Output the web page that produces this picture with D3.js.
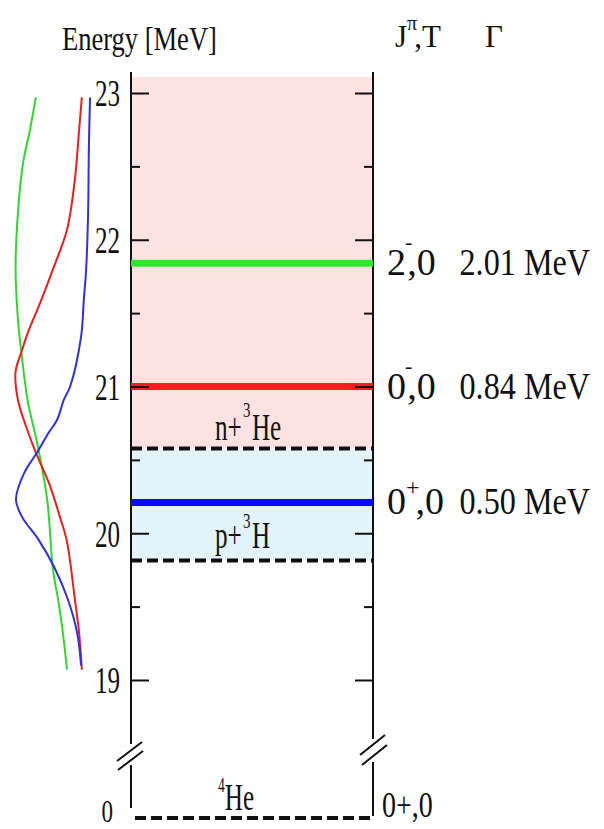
<!DOCTYPE html>
<html>
<head>
<meta charset="utf-8">
<script src="https://cdn.jsdelivr.net/npm/d3@7"></script>
<style>
  body { margin: 0; background: #fff; }
  svg { display: block; }
</style>
</head>
<body>
<svg id="chart" width="604" height="829"></svg>
<script>
// values (energies in MeV)
const majorTicks = [19, 20, 21, 22, 23];
const minorTicks = [19.5, 20.5, 21.5, 22.5];

const levelEnergies = [21.84, 21.0, 20.21];
const levelSpins = ["2", "0", "0"];
const levelParities = ["-", "-", "+"];
const levelWidths = ["2.01 MeV", "0.84 MeV", "0.50 MeV"];
const levelColors = ["#2ee82e", "#ff1c1c", "#0a0aff"];

const thresholdEnergies = [20.578, 19.814];
const thresholdLabels = [["n+", "3", "He"], ["p+", "3", "H"]];
const groundEnergy = 0;

// [energy, amplitude] along each curve on the left
const curveGreen = [[22.97,-0.44],[22.75,-0.59],[22.52,-0.77],[22.18,-0.90],[21.80,-0.96],[21.46,-0.90],
    [21.25,-0.82],[20.89,-0.64],[20.62,-0.41],[20.23,-0.15],[19.75,0],[19.55,0.13],[19.37,0.23],[19.07,0.36]];
const curveRed = [[22.97,0.74],[22.75,0.67],[22.41,0.56],[22.07,0.36],[21.80,0],[21.57,-0.33],[21.37,-0.64],
    [21.25,-0.79],[21.10,-0.96],[20.91,-0.90],[20.69,-0.64],[20.55,-0.44],[20.34,-0.10],[20.11,0.18],
    [19.94,0.36],[19.55,0.56],[19.32,0.67],[19.07,0.74]];
const curveBlue = [[22.97,0.95],[22.63,0.92],[22.18,0.90],[21.80,0.85],[21.59,0.79],[21.34,0.72],[21.00,0.44],
    [20.91,0.28],[20.77,0.10],[20.69,-0.10],[20.55,-0.41],[20.41,-0.74],[20.23,-0.95],[20.11,-0.79],
    [19.96,-0.38],[19.77,0.03],[19.55,0.38],[19.32,0.62],[19.10,0.72]];

const serif = "'Liberation Serif', 'Times New Roman', serif";
const xLeft = 131, xRight = 373;

const svg = d3.select("#chart");

const y = d3.scaleLinear().domain([23, 19]).range([93, 680]);
// lower part below the axis break, only the ground state lives there
const yLow = d3.scaleLinear().domain([0, 1]).range([818, 700]);
const amp = d3.scaleLinear().domain([-1, 1]).range([14, 92]);

function addText(x, yy, size, sx) {
    return svg.append("text")
        .attr("transform", `translate(${x},${yy}) scale(${sx},1)`)
        .style("font-family", serif)
        .style("font-size", size + "px")
        .attr("fill", "#111");
}

// bands
svg.append("rect")
    .attr("x", xLeft).attr("y", 77)
    .attr("width", xRight - xLeft)
    .attr("height", y(thresholdEnergies[0]) - 77)
    .attr("fill", "#fde2e2");
svg.append("rect")
    .attr("x", xLeft).attr("y", y(thresholdEnergies[0]))
    .attr("width", xRight - xLeft)
    .attr("height", y(thresholdEnergies[1]) - y(thresholdEnergies[0]))
    .attr("fill", "#e2f3fa");

// axis lines with the break
const axisSegments = [
    [xLeft, 72, 744], [xLeft, 765, 808],
    [xRight, 72, 739], [xRight, 762, 816]
];
svg.selectAll(".axisline").data(axisSegments).enter().append("line")
    .attr("x1", d => d[0]).attr("x2", d => d[0])
    .attr("y1", d => d[1]).attr("y2", d => d[2])
    .attr("stroke", "#111").attr("stroke-width", 2);

const breaks = [
    [117, 761, 142, 742], [118, 770, 143, 751],
    [360, 755, 385, 735], [362, 765, 387, 745]
];
svg.selectAll(".brk").data(breaks).enter().append("line")
    .attr("x1", d => d[0]).attr("y1", d => d[1])
    .attr("x2", d => d[2]).attr("y2", d => d[3])
    .attr("stroke", "#111").attr("stroke-width", 2);

// threshold dashed lines
svg.selectAll(".thr").data(thresholdEnergies).enter().append("line")
    .attr("x1", xLeft).attr("x2", xRight)
    .attr("y1", d => y(d)).attr("y2", d => y(d))
    .attr("stroke", "#111").attr("stroke-width", 4)
    .attr("stroke-dasharray", "11 5");

svg.append("line")
    .attr("x1", xLeft + 4).attr("x2", xRight)
    .attr("y1", yLow(groundEnergy)).attr("y2", yLow(groundEnergy))
    .attr("stroke", "#111").attr("stroke-width", 4)
    .attr("stroke-dasharray", "11 5");

// levels
svg.selectAll(".lvl").data(levelEnergies).enter().append("line")
    .attr("x1", xLeft).attr("x2", xRight)
    .attr("y1", d => y(d)).attr("y2", d => y(d))
    .attr("stroke", (d, i) => levelColors[i])
    .attr("stroke-width", 7);

// ticks
function styleAxis(g) {
    g.select(".domain").remove();
    g.selectAll(".tick line").attr("stroke", "#111").attr("stroke-width", 2);
}
const sxNum = 0.66;
const leftAxis = svg.append("g")
    .attr("transform", `translate(${xLeft},0)`)
    .call(d3.axisLeft(y).tickValues(majorTicks).tickSize(-18).tickPadding(11).tickFormat(d3.format("d")));
styleAxis(leftAxis);
leftAxis.selectAll(".tick text")
    .attr("x", -11 / sxNum)
    .attr("dy", "0.34em")
    .attr("transform", `scale(${sxNum},1)`)
    .style("font-family", serif)
    .style("font-size", "38px")
    .attr("fill", "#111");

svg.append("g")
    .attr("transform", `translate(${xLeft},0)`)
    .call(d3.axisLeft(y).tickValues(minorTicks).tickSize(-9).tickFormat(""))
    .call(styleAxis);
svg.append("g")
    .attr("transform", `translate(${xRight},0)`)
    .call(d3.axisRight(y).tickValues(majorTicks).tickSize(-18).tickFormat(""))
    .call(styleAxis);
svg.append("g")
    .attr("transform", `translate(${xRight},0)`)
    .call(d3.axisRight(y).tickValues(minorTicks).tickSize(-9).tickFormat(""))
    .call(styleAxis);

// curves
const line = d3.line()
    .x(d => amp(d[1]))
    .y(d => y(d[0]))
    .curve(d3.curveCatmullRom);
[[curveGreen, "#2ed82e"], [curveRed, "#ee1c1c"], [curveBlue, "#3030e0"]].forEach(c => {
    svg.append("path")
        .datum(c[0])
        .attr("d", line)
        .attr("fill", "none")
        .attr("stroke", c[1])
        .attr("stroke-width", 2);
});

// header
addText(62, 50, 34, 0.78).text("Energy [MeV]");
const jt = addText(395, 47, 31, 1);
jt.append("tspan").text("J");
jt.append("tspan").attr("dy", -17).style("font-size", "20px").text("π");
jt.append("tspan").attr("dy", 17).attr("dx", -3).text(",T");
addText(485, 47, 31, 1).text("Γ");

// zero label
addText(113, yLow(groundEnergy) + 4, 32, 0.72).attr("text-anchor", "end").text("0");
addText(382, yLow(groundEnergy) - 1, 35, 0.8).text("0+,0");

// level labels: spin/parity, then the width right aligned
levelEnergies.forEach((e, i) => {
    const t = addText(387, y(e) + 12, 38, 1.0);
    const plus = levelParities[i] === "+";
    t.append("tspan").text(levelSpins[i]);
    t.append("tspan")
        .attr("dx", plus ? 0 : -1)
        .attr("dy", plus ? -19 : -26)
        .style("font-size", plus ? "24px" : "22px")
        .text(levelParities[i]);
    t.append("tspan")
        .attr("dx", plus ? -4 : -5)
        .attr("dy", plus ? 19 : 26)
        .text(",0");
    addText(590, y(e) + 12, 37, 0.87).attr("text-anchor", "end").text(levelWidths[i]);
});

// threshold labels
const thrOffsets = [-8, -13];
const supRise = [23, 20];
thresholdEnergies.forEach((e, i) => {
    const t = addText(215, y(e) + thrOffsets[i], 37, 0.68);
    t.append("tspan").text(thresholdLabels[i][0]);
    t.append("tspan").attr("dx", 2).attr("dy", -supRise[i]).style("font-size", "22px").text(thresholdLabels[i][1]);
    t.append("tspan").attr("dx", 2).attr("dy", supRise[i]).text(thresholdLabels[i][2]);
});

const he = addText(218, yLow(groundEnergy) - 8, 37, 0.68);
he.append("tspan").attr("dy", -18).style("font-size", "20px").text("4");
he.append("tspan").attr("dy", 18).text("He");
</script>
</body>
</html>
